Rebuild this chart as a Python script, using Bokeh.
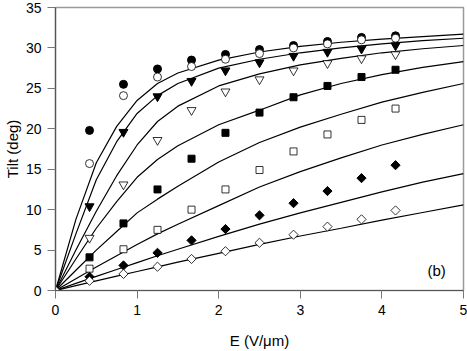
import numpy as np
from bokeh.plotting import figure
from bokeh.models import Label, FixedTicker
from bokeh.embed import file_html
from bokeh.resources import INLINE

# Measured points (E in V/um, tilt in deg)
E_pts = [0.417, 0.833, 1.25, 1.667, 2.083, 2.5, 2.917, 3.333, 3.75, 4.167]
filled_circle = [19.8, 25.5, 27.4, 28.5, 29.2, 29.8, 30.3, 30.8, 31.3, 31.5]
open_circle = [15.7, 24.1, 26.4, 27.7, 28.6, 29.3, 30.0, 30.5, 31.0, 31.2]
filled_tri = [10.4, 19.6, 24.0, 25.9, 27.2, 28.2, 29.0, 29.5, 29.9, 30.3]
open_tri = [6.5, 13.1, 18.6, 22.3, 24.6, 26.1, 27.2, 28.1, 28.7, 29.2]
filled_sq = [4.1, 8.3, 12.5, 16.3, 19.5, 22.0, 23.9, 25.3, 26.4, 27.3]
open_sq = [2.7, 5.1, 7.5, 10.0, 12.5, 14.9, 17.2, 19.3, 21.1, 22.5]
filled_dia = [1.7, 3.1, 4.66, 6.2, 7.6, 9.3, 10.8, 12.3, 13.9, 15.5]
E_od = [0.0, 0.417, 0.833, 1.25, 1.667, 2.083, 2.5, 2.917, 3.333, 3.75, 4.167]
open_dia = [0.0, 1.2, 2.05, 2.94, 3.9, 4.86, 5.9, 6.9, 7.9, 8.8, 9.9]

# Model curves
E_curve = [0, 0.25, 0.5, 0.75, 1.0, 1.25, 1.5, 2.0, 2.5, 3.0, 3.5, 4.0, 4.5, 5.0]
curve1 = [0, 8.8, 15.8, 20.3, 23.5, 25.6, 26.9, 28.5, 29.5, 30.2, 30.7, 31.1, 31.4, 31.7]
curve2 = [0, 7.0, 13.7, 18.4, 21.9, 24.1, 25.6, 27.5, 28.6, 29.4, 30.0, 30.5, 30.9, 31.2]
curve3 = [0, 5.0, 9.8, 14.2, 18.0, 20.9, 22.8, 25.3, 26.8, 27.9, 28.7, 29.4, 29.9, 30.3]
curve4 = [0, 3.9, 7.7, 11.0, 14.0, 16.2, 17.9, 20.5, 22.3, 24.2, 25.6, 26.7, 27.6, 28.3]
curve5 = [0, 2.5, 5.0, 7.3, 9.6, 11.3, 12.9, 15.9, 18.3, 20.2, 21.8, 23.3, 24.5, 25.6]
curve6 = [0, 1.45, 2.9, 4.3, 5.7, 7.0, 8.2, 10.5, 12.8, 14.7, 16.4, 18.0, 19.3, 20.5]
curve7 = [0, 0.88, 1.75, 2.6, 3.45, 4.3, 5.1, 6.7, 8.2, 9.6, 10.9, 12.2, 13.4, 14.45]
curve8 = [0, 0.6, 1.2, 1.78, 2.35, 2.92, 3.5, 4.6, 5.7, 6.74, 7.7, 8.7, 9.65, 10.6]

x_ticks = [0, 1, 2, 3, 4, 5]
y_ticks = [0, 5, 10, 15, 20, 25, 30, 35]

FONT = "Liberation Sans"

p = figure(width=467, height=351, x_range=(0, 5), y_range=(0, 35),
           output_backend="svg", toolbar_location=None,
           min_border_top=7, min_border_right=4, min_border_left=0, min_border_bottom=0)
p.background_fill_color = "white"
p.border_fill_color = "white"
p.grid.visible = False
p.outline_line_color = "#9a9a9a"
p.outline_line_width = 1.5

for ax in (p.xaxis[0], p.yaxis[0]):
    ax.axis_line_color = "#555555"
    ax.axis_line_width = 1.2
    ax.major_tick_line_color = "#777777"
    ax.major_tick_out = 8
    ax.major_tick_in = 0
    ax.minor_tick_line_color = None
    ax.major_label_text_font = FONT
    ax.major_label_text_font_size = "14px"
    ax.major_label_text_color = "black"
    ax.axis_label_text_font = FONT
    ax.axis_label_text_font_size = "15px"
    ax.axis_label_text_font_style = "normal"
    ax.axis_label_text_color = "black"
    ax.major_label_standoff = 6

p.xaxis.ticker = FixedTicker(ticks=x_ticks)
p.yaxis.ticker = FixedTicker(ticks=y_ticks)
p.xaxis.axis_label = "E (V/\u03bcm)"
p.yaxis.axis_label = "Tilt (deg)"
p.xaxis.axis_label_standoff = 14
p.yaxis.axis_label_standoff = 2

for c in (curve1, curve2, curve3, curve4, curve5, curve6, curve7, curve8):
    p.line(E_curve, c, line_color="black", line_width=1.2)

p.scatter(E_pts, filled_circle, marker="circle", size=8, fill_color="black", line_color="black")
p.scatter(E_pts, open_circle, marker="circle", size=8, fill_color="white", line_color="black", line_width=0.8)
p.scatter(E_pts, filled_tri, marker="inverted_triangle", size=9, fill_color="black", line_color="black")
p.scatter(E_pts, open_tri, marker="inverted_triangle", size=9, fill_color="white", line_color="black", line_width=0.8)
p.scatter(E_pts, filled_sq, marker="square", size=7, fill_color="black", line_color="black")
p.scatter(E_pts, open_sq, marker="square", size=7, fill_color="white", line_color="black", line_width=0.8)
p.scatter(E_pts, filled_dia, marker="square", size=6.5, angle=np.pi / 4, fill_color="black", line_color="black")
p.scatter(E_od, open_dia, marker="square", size=6.5, angle=np.pi / 4, fill_color="white", line_color="black", line_width=0.8)

p.add_layout(Label(x=4.67, y=2.5, text="(b)", text_font=FONT, text_font_size="15px",
                   text_align="center", text_baseline="middle", text_color="black"))

open("out.html", "w").write(file_html(p, INLINE))
